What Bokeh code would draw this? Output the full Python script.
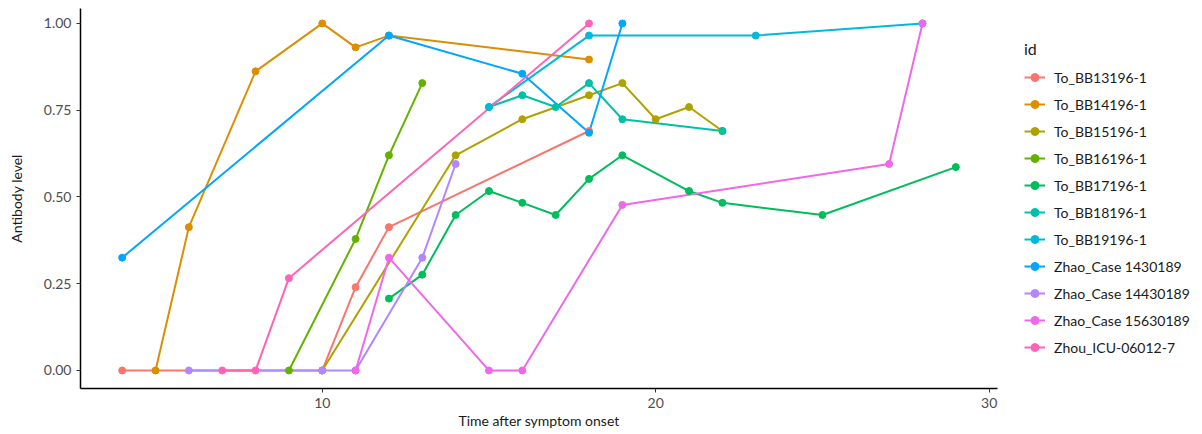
from bokeh.plotting import figure
from bokeh.models import Legend, LegendItem, FixedTicker, Range1d, NumeralTickFormatter
from bokeh.embed import file_html
from bokeh.resources import INLINE

ids = ["To_BB13196-1", "To_BB14196-1", "To_BB15196-1", "To_BB16196-1", "To_BB17196-1",
       "To_BB18196-1", "To_BB19196-1", "Zhao_Case 1430189", "Zhao_Case 14430189",
       "Zhao_Case 15630189", "Zhou_ICU-06012-7"]
colors = ["#F8766D", "#DB8E00", "#AEA200", "#64B200", "#00BD5C", "#00C1A7",
          "#00BADE", "#00A6FF", "#B385FF", "#EF67EB", "#FF63B6"]

x_bb13 = [4, 10, 11, 12, 18]
y_bb13 = [0.0, 0.0, 0.24, 0.413, 0.69]
x_bb14 = [5, 6, 8, 10, 11, 12, 18]
y_bb14 = [0.0, 0.413, 0.862, 1.0, 0.931, 0.965, 0.896]
x_bb15 = [10, 14, 16, 18, 19, 20, 21, 22]
y_bb15 = [0.0, 0.62, 0.724, 0.793, 0.828, 0.724, 0.759, 0.69]
x_bb16 = [9, 11, 12, 13]
y_bb16 = [0.0, 0.379, 0.62, 0.828]
x_bb17 = [12, 13, 14, 15, 16, 17, 18, 19, 21, 22, 25, 29]
y_bb17 = [0.207, 0.276, 0.448, 0.517, 0.483, 0.448, 0.552, 0.62, 0.517, 0.483, 0.448, 0.586]
x_bb18 = [15, 16, 17, 18, 19, 22]
y_bb18 = [0.759, 0.793, 0.759, 0.828, 0.724, 0.69]
x_bb19 = [15, 18, 23, 28]
y_bb19 = [0.759, 0.965, 0.965, 1.0]
x_z143 = [4, 12, 16, 18, 19]
y_z143 = [0.325, 0.965, 0.855, 0.685, 1.0]
x_z1443 = [6, 10, 11, 13, 14]
y_z1443 = [0.0, 0.0, 0.0, 0.325, 0.595]
x_z1563 = [11, 12, 15, 16, 19, 27, 28]
y_z1563 = [0.0, 0.325, 0.0, 0.0, 0.477, 0.595, 1.0]
x_zhou = [7, 8, 9, 18]
y_zhou = [0.0, 0.0, 0.266, 1.0]

xs = [x_bb13, x_bb14, x_bb15, x_bb16, x_bb17, x_bb18, x_bb19, x_z143, x_z1443, x_z1563, x_zhou]
ys = [y_bb13, y_bb14, y_bb15, y_bb16, y_bb17, y_bb18, y_bb19, y_z143, y_z1443, y_z1563, y_zhou]

FONT = "Lato"

p = figure(frame_width=917, frame_height=380, output_backend="svg", toolbar_location=None,
           x_range=Range1d(2.75, 30.25), y_range=Range1d(-0.052, 1.043),
           min_border_left=80, min_border_right=10, min_border_top=8, min_border_bottom=30)
p.outline_line_color = None
p.xgrid.grid_line_color = None
p.ygrid.grid_line_color = None

lines = []
for x, y, c in zip(xs, ys, colors):
    lines.append(p.line(x, y, line_color=c, line_width=2))
pts = []
for x, y, c in zip(xs, ys, colors):
    pts.append(p.scatter(x, y, fill_color=c, line_color=c, size=7))

for ax in (p.xaxis[0], p.yaxis[0]):
    ax.axis_line_color = "black"
    ax.axis_line_width = 1.5
    ax.major_tick_line_color = "#333333"
    ax.major_tick_out = 4
    ax.major_tick_in = 0
    ax.minor_tick_line_color = None
    ax.major_label_text_font = FONT
    ax.major_label_text_font_size = "14px"
    ax.major_label_text_color = "#4D4D4D"
    ax.axis_label_text_font = FONT
    ax.axis_label_text_font_size = "14px"
    ax.axis_label_text_font_style = "normal"
    ax.axis_label_text_color = "#1a1a1a"

p.xaxis.ticker = FixedTicker(ticks=[10, 20, 30])
p.yaxis.ticker = FixedTicker(ticks=[0, 0.25, 0.5, 0.75, 1.0])
p.yaxis.formatter = NumeralTickFormatter(format="0.00")
p.xaxis.axis_label = "Time after symptom onset"
p.yaxis.axis_label = "Antibody level"
p.xaxis.major_label_standoff = 5
p.xaxis.axis_label_standoff = 1
p.yaxis.major_label_standoff = 5
p.yaxis.axis_label_standoff = 16

items = [LegendItem(label=lab, renderers=[l, s]) for lab, l, s in zip(ids, lines, pts)]
legend = Legend(items=items, location="center_left", title="id",
                title_text_font=FONT, title_text_font_size="16px", title_text_color="#1a1a1a",
                title_text_font_style="normal", title_standoff=9,
                label_text_font=FONT, label_text_font_size="14px", label_text_color="#1a1a1a",
                label_standoff=9,
                glyph_width=21, glyph_height=20, label_height=20, spacing=7,
                border_line_color=None, background_fill_alpha=0, margin=27, padding=6)
p.add_layout(legend, "right")

open("out.html", "w").write(file_html(p, INLINE))
